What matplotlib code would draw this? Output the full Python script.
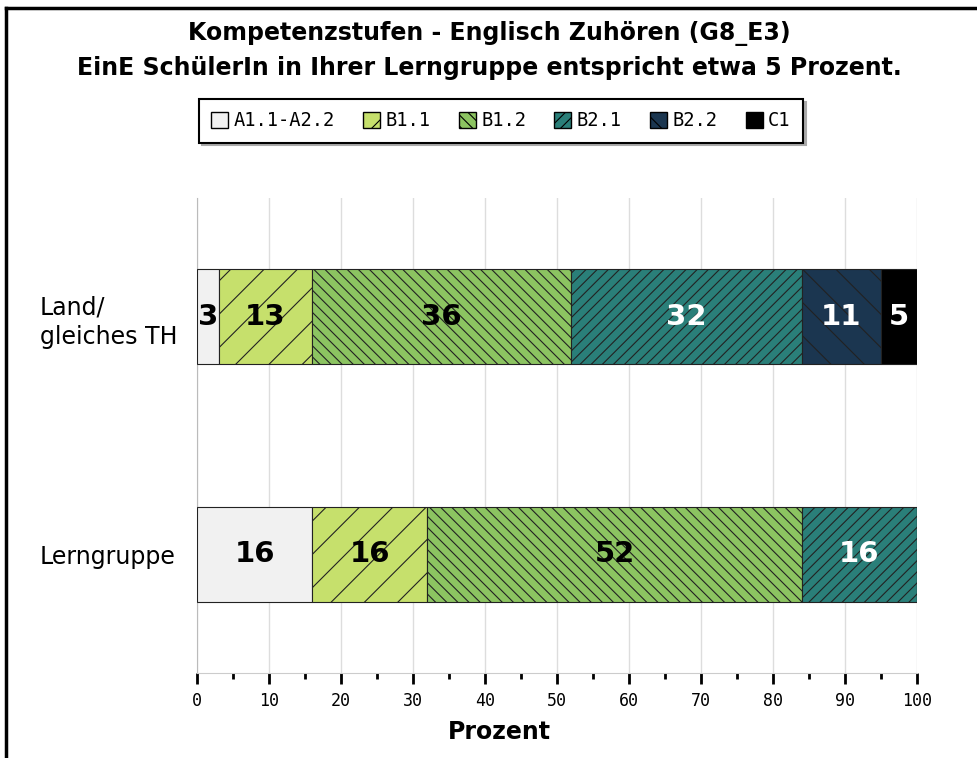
import matplotlib
matplotlib.use('Agg')
import matplotlib.pyplot as plt
from matplotlib.ticker import MultipleLocator
from matplotlib.patches import Patch
from matplotlib.lines import Line2D

# === Données
groupes = ["Lerngruppe", "Land/\ngleiches TH"]
stufen = ["A1.1-A2.2", "B1.1", "B1.2", "B2.1", "B2.2", "C1"]
werte = {
    "A1.1-A2.2": [16, 3],
    "B1.1": [16, 13],
    "B1.2": [52, 36],
    "B2.1": [16, 32],
    "B2.2": [0, 11],
    "C1": [0, 5],
}
farben = ["#f1f1f1", "#c6e06c", "#8cc461", "#2a7f79", "#1b3650", "#000000"]
muster = ["", "/", "\\\\\\", "///", "\\", ""]
textfarben = ["black", "black", "black", "white", "white", "white"]

plt.rcParams['hatch.linewidth'] = 0.8
plt.rcParams['font.family'] = 'DejaVu Sans'

fig = plt.figure(figsize=(9.78, 7.58), dpi=100)
ax = fig.add_axes([197 / 978, 1 - 673 / 758, 720 / 978, 475 / 758])

# === Barres empilées
y = list(range(len(groupes)))
links = [0] * len(groupes)
for i, s in enumerate(stufen):
    vals = werte[s]
    ax.barh(y, vals, left=links, height=0.4, color=farben[i], edgecolor="#222222",
            hatch=muster[i], linewidth=0.8, zorder=3)
    for j, v in enumerate(vals):
        if v > 0:
            ax.text(links[j] + v / 2, y[j], str(v), ha='center', va='center',
                    fontsize=21, fontweight='bold', color=textfarben[i], zorder=4)
    links = [a + b for a, b in zip(links, vals)]

ax.set_xlim(0, 100)
ax.set_ylim(-0.5, 1.5)
ax.xaxis.set_major_locator(MultipleLocator(10))
ax.xaxis.set_minor_locator(MultipleLocator(5))
ax.grid(axis='x', color='#dddddd', linewidth=1, zorder=0)
ax.set_axisbelow(True)

for sp in ['top', 'right']:
    ax.spines[sp].set_visible(False)
ax.spines['bottom'].set_color('#cccccc')
ax.spines['left'].set_color('#bbbbbb')

ax.tick_params(axis='x', which='major', length=8, width=2, color='black', labelsize=12, pad=6)
ax.tick_params(axis='x', which='minor', length=4, width=2, color='black')
for lab in ax.get_xticklabels():
    lab.set_family('DejaVu Sans Mono')

ax.set_yticks(y)
ax.set_yticklabels(groupes, fontsize=17, linespacing=1.3)
ax.tick_params(axis='y', length=0, pad=113)
for lab in ax.get_yticklabels():
    lab.set_horizontalalignment('left')

ax.set_xlabel("Prozent", fontsize=17, fontweight='bold')
ax.xaxis.set_label_coords((499 - 197) / 720, -(732 - 673) / 475)
ax.xaxis.label.set_va('center')

# === Titre
fig.text(0.5, 1 - 33 / 758, "Kompetenzstufen - Englisch Zuhören (G8_E3)",
         ha='center', va='center', fontsize=17, fontweight='bold')
fig.text(0.5, 1 - 68 / 758, "EinE SchülerIn in Ihrer Lerngruppe entspricht etwa 5 Prozent.",
         ha='center', va='center', fontsize=17, fontweight='bold')

# === Légende
handles = [Patch(facecolor=farben[i], edgecolor='black', hatch=muster[i], label=s)
           for i, s in enumerate(stufen)]
leg = fig.legend(handles=handles, loc='center', bbox_to_anchor=(501 / 978, 1 - 121 / 758),
                 ncol=6, frameon=True, fancybox=False, shadow={'color': '#aaaaaa', 'alpha': 1},
                 handlelength=0.9, handleheight=0.9, handletextpad=0.3, columnspacing=1.5,
                 borderpad=0.65, prop={'family': 'DejaVu Sans Mono', 'size': 13.5})
leg.get_frame().set_edgecolor('black')
leg.get_frame().set_linewidth(1.5)

# Cadre de la figure (gauche et haut)
fig.add_artist(Line2D([6 / 978, 6 / 978], [0, 1 - 8 / 758], color='black', linewidth=2.5))
fig.add_artist(Line2D([6 / 978, 1], [1 - 8 / 758, 1 - 8 / 758], color='black', linewidth=2.5))

plt.savefig("out.png", dpi=100)
